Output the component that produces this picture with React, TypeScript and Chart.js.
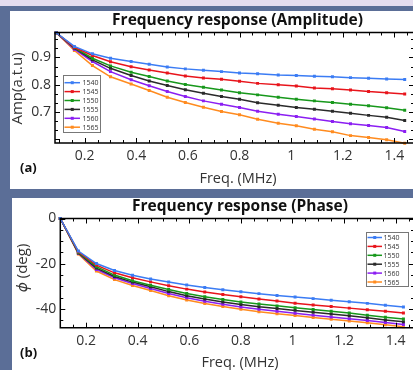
import React, { useEffect, useRef } from 'react';
import { Chart, registerables } from 'chart.js';

Chart.register(...registerables);

const seriesLabels = ['1540', '1545', '1550', '1555', '1560', '1565'];
const seriesColors = ['#3b7cf4', '#e8141b', '#17981b', '#2a2a2a', '#8b1ef2', '#ff8b1f'];

const freqAmp = [0.09, 0.16, 0.23, 0.30, 0.38, 0.45, 0.52, 0.59, 0.66, 0.73, 0.80, 0.87, 0.95, 1.02, 1.09, 1.16, 1.23, 1.30, 1.37, 1.44];
const freqPhase = [0.10, 0.17, 0.24, 0.31, 0.38, 0.45, 0.52, 0.59, 0.66, 0.73, 0.80, 0.87, 0.94, 1.01, 1.08, 1.15, 1.22, 1.29, 1.36, 1.43];

const amp1540 = [0.99, 0.94, 0.913, 0.897, 0.885, 0.875, 0.865, 0.858, 0.853, 0.848, 0.843, 0.84, 0.836, 0.834, 0.831, 0.829, 0.826, 0.824, 0.821, 0.819];
const amp1545 = [0.99, 0.937, 0.907, 0.884, 0.866, 0.854, 0.843, 0.832, 0.825, 0.82, 0.813, 0.805, 0.8, 0.795, 0.788, 0.785, 0.781, 0.775, 0.771, 0.766];
const amp1550 = [0.99, 0.936, 0.897, 0.869, 0.846, 0.83, 0.814, 0.801, 0.791, 0.781, 0.771, 0.763, 0.754, 0.747, 0.741, 0.735, 0.729, 0.723, 0.716, 0.707];
const amp1555 = [0.99, 0.934, 0.891, 0.86, 0.834, 0.814, 0.797, 0.782, 0.769, 0.757, 0.747, 0.734, 0.725, 0.717, 0.71, 0.703, 0.696, 0.688, 0.681, 0.669];
const amp1560 = [0.99, 0.93, 0.885, 0.848, 0.818, 0.796, 0.775, 0.757, 0.741, 0.729, 0.717, 0.703, 0.692, 0.684, 0.675, 0.666, 0.657, 0.651, 0.644, 0.629];
const amp1565 = [0.99, 0.925, 0.87, 0.829, 0.803, 0.779, 0.754, 0.735, 0.718, 0.702, 0.69, 0.674, 0.659, 0.65, 0.637, 0.628, 0.614, 0.607, 0.599, 0.586];

const phase1540 = [0, -14.4, -19.9, -23.0, -25.1, -26.7, -28.1, -29.4, -30.5, -31.5, -32.4, -33.2, -34.0, -34.7, -35.4, -36.1, -36.8, -37.5, -38.3, -39.1];
const phase1545 = [0, -14.7, -20.6, -24.0, -26.2, -28.0, -29.7, -31.2, -32.5, -33.6, -34.6, -35.6, -36.5, -37.4, -38.2, -38.9, -39.6, -40.3, -41.0, -41.8];
const phase1550 = [0, -15.0, -21.3, -25.0, -27.5, -29.5, -31.4, -33.1, -34.6, -35.8, -36.9, -37.8, -38.6, -39.4, -40.2, -41.0, -41.8, -42.7, -43.6, -44.4];
const phase1555 = [0, -15.2, -21.9, -25.6, -28.1, -30.2, -32.3, -34.1, -35.6, -36.9, -38.0, -39.0, -39.8, -40.6, -41.4, -42.2, -43.0, -43.9, -44.8, -45.6];
const phase1560 = [0, -15.4, -22.5, -26.2, -28.7, -30.9, -33.1, -35.0, -36.6, -37.9, -39.1, -40.1, -41.0, -41.9, -42.7, -43.5, -44.3, -45.1, -46.0, -46.8];
const phase1565 = [0, -15.7, -23.2, -27.0, -29.6, -31.8, -34.1, -36.0, -37.6, -38.9, -40.1, -41.2, -42.1, -42.9, -43.7, -44.5, -45.3, -46.1, -46.9, -47.8];

const xTickValues = [0.2, 0.4, 0.6, 0.8, 1, 1.2, 1.4];
const ampTickValues = [0.7, 0.8, 0.9];
const phaseTickValues = [-40, -20, 0];

const ampSeries = [amp1540, amp1545, amp1550, amp1555, amp1560, amp1565];
const phaseSeries = [phase1540, phase1545, phase1550, phase1555, phase1560, phase1565];

const FONT = '"Open Sans", "Noto Sans", sans-serif';

const decorPlugin = {
  id: 'decor',
  afterDraw(chart: any, _args: any, o: any) {
    const { ctx, chartArea: ca, scales } = chart;
    const xs = scales.x;
    const ys = scales.y;
    ctx.save();
    // frame
    ctx.strokeStyle = '#000';
    ctx.lineWidth = 1.5;
    ctx.beginPath();
    ctx.rect(ca.left, ca.top, ca.right - ca.left, ca.bottom - ca.top);
    ctx.stroke();
    ctx.lineWidth = 1;
    // x ticks
    const k0 = Math.ceil(xs.min / o.xMinor - 1e-6);
    const k1 = Math.floor(xs.max / o.xMinor + 1e-6);
    for (let k = k0; k <= k1; k++) {
      const v = k * o.xMinor;
      const r = v / o.xMajor;
      const major = Math.abs(r - Math.round(r)) < 1e-3;
      const len = major ? 5 : 3;
      const px = Math.round(xs.getPixelForValue(v)) + 0.5;
      ctx.beginPath();
      ctx.moveTo(px, ca.bottom);
      ctx.lineTo(px, ca.bottom - len);
      ctx.moveTo(px, ca.top);
      ctx.lineTo(px, ca.top + len);
      ctx.stroke();
    }
    const j0 = Math.ceil(ys.min / o.yMinor - 1e-6);
    const j1 = Math.floor(ys.max / o.yMinor + 1e-6);
    for (let k = j0; k <= j1; k++) {
      const v = k * o.yMinor;
      const r = v / o.yMajor;
      const major = Math.abs(r - Math.round(r)) < 1e-3;
      const len = major ? 5 : 3;
      const py = Math.round(ys.getPixelForValue(v)) + 0.5;
      ctx.beginPath();
      ctx.moveTo(ca.left, py);
      ctx.lineTo(ca.left + len, py);
      ctx.moveTo(ca.right, py);
      ctx.lineTo(ca.right - len, py);
      ctx.stroke();
    }
    // legend
    const L = o.legend;
    ctx.fillStyle = '#fff';
    ctx.fillRect(L.x, L.y, L.w, L.h);
    ctx.strokeStyle = '#777';
    ctx.lineWidth = 1;
    ctx.strokeRect(L.x + 0.5, L.y + 0.5, L.w - 1, L.h - 1);
    chart.data.datasets.forEach((ds: any, i: number) => {
      const yy = L.y + L.first + i * L.row;
      ctx.strokeStyle = ds.borderColor;
      ctx.lineWidth = 1.5;
      ctx.beginPath();
      ctx.moveTo(L.x + L.lineStart, yy);
      ctx.lineTo(L.x + L.lineEnd, yy);
      ctx.stroke();
      ctx.fillStyle = ds.borderColor;
      const mx = L.x + (L.lineStart + L.lineEnd) / 2;
      ctx.fillRect(mx - 1.5, yy - 1.5, 3, 3);
      ctx.fillStyle = '#333';
      ctx.font = `7px ${FONT}`;
      ctx.textAlign = 'left';
      ctx.textBaseline = 'middle';
      ctx.fillText(ds.label, L.x + L.textX, yy + 0.5);
    });
    // title
    ctx.fillStyle = '#111';
    ctx.font = `bold 15.5px ${FONT}`;
    ctx.textAlign = 'center';
    ctx.textBaseline = 'alphabetic';
    ctx.fillText(o.title, o.titleX, o.titleY);
    // x title
    ctx.fillStyle = '#333';
    ctx.font = `14.5px ${FONT}`;
    ctx.fillText(o.xTitle, o.xTitleX, o.xTitleY);
    // y title (rotated, possibly mixed styles)
    ctx.save();
    ctx.translate(o.yTitleX, o.yTitleY);
    ctx.rotate(-Math.PI / 2);
    ctx.textAlign = 'left';
    const parts = o.yTitle as { text: string; italic?: boolean }[];
    const fontFor = (p: any) => `${p.italic ? 'italic ' : ''}15px ${FONT}`;
    let total = 0;
    parts.forEach((p) => {
      ctx.font = fontFor(p);
      total += ctx.measureText(p.text).width;
    });
    let cx = -total / 2;
    parts.forEach((p) => {
      ctx.font = fontFor(p);
      ctx.fillText(p.text, cx, 0);
      cx += ctx.measureText(p.text).width;
    });
    ctx.restore();
    // panel tag
    ctx.fillStyle = '#111';
    ctx.font = `bold 13px ${FONT}`;
    ctx.textAlign = 'left';
    ctx.fillText(o.tag, o.tagX, o.tagY);
    ctx.restore();
  },
};

function makeConfig(p: any) {
  return {
    type: 'line',
    data: {
      datasets: p.series.map((vals: number[], i: number) => ({
        label: seriesLabels[i],
        data: vals.map((v, k) => ({ x: p.freq[k], y: v })),
        borderColor: seriesColors[i],
        backgroundColor: seriesColors[i],
        borderWidth: 1.5,
        pointStyle: 'rect',
        pointRadius: 2.1,
        pointBorderWidth: 0,
        tension: 0,
        clip: 5,
      })),
    },
    options: {
      responsive: false,
      animation: false,
      devicePixelRatio: 1,
      layout: { padding: { left: 0, top: p.top, right: p.right, bottom: 0 } },
      plugins: {
        legend: { display: false },
        title: { display: false },
        tooltip: { enabled: false },
        decor: p.decor,
      },
      scales: {
        x: {
          type: 'linear',
          min: p.xMin,
          max: p.xMax,
          afterBuildTicks: (s: any) => {
            s.ticks = xTickValues.map((v) => ({ value: v }));
          },
          afterFit: (s: any) => {
            s.height = p.xHeight;
          },
          grid: { display: false, drawTicks: false },
          border: { display: false },
          ticks: {
            autoSkip: false,
            maxRotation: 0,
            padding: p.xPad,
            color: '#333',
            font: { family: FONT, size: 14 },
            callback: (v: number) => String(v),
          },
        },
        y: {
          type: 'linear',
          min: p.yMin,
          max: p.yMax,
          afterBuildTicks: (s: any) => {
            s.ticks = p.yTicks.map((v: number) => ({ value: v }));
          },
          afterFit: (s: any) => {
            s.width = p.yWidth;
          },
          grid: { display: false, drawTicks: false },
          border: { display: false },
          ticks: {
            padding: 4,
            color: '#333',
            font: { family: FONT, size: 14 },
            callback: (v: number) => String(v),
          },
        },
      },
    },
    plugins: [decorPlugin],
  };
}

function Panel(props: { cfg: any; width: number; height: number }) {
  const ref = useRef<HTMLCanvasElement>(null);
  useEffect(() => {
    const chart = new Chart(ref.current as HTMLCanvasElement, makeConfig(props.cfg) as any);
    return () => chart.destroy();
  }, []);
  return (
    <canvas
      ref={ref}
      width={props.width}
      height={props.height}
      style={{ position: 'absolute', left: 0, top: 0, width: props.width, height: props.height }}
    />
  );
}

const ampCfg = {
  freq: freqAmp,
  series: ampSeries,
  xMin: 0.085,
  xMax: 1.476,
  yMin: 0.587,
  yMax: 0.991,
  yTicks: ampTickValues,
  top: 21.5,
  right: 16,
  xHeight: 46,
  yWidth: 45,
  xPad: 5,
  decor: {
    xMinor: 0.05,
    xMajor: 0.2,
    yMinor: 0.1 / 3,
    yMajor: 0.1,
    legend: { x: 53, y: 64, w: 38, h: 58, first: 7.7, row: 8.9, lineStart: 1.5, lineEnd: 17, textX: 19.5 },
    title: 'Frequency response (Amplitude)',
    titleX: 227.5,
    titleY: 14,
    xTitle: 'Freq. (MHz)',
    xTitleX: 228,
    xTitleY: 172,
    yTitle: [{ text: 'Amp(a.t.u)' }],
    yTitleX: 11.5,
    yTitleY: 77.5,
    tag: '(a)',
    tagX: 10,
    tagY: 161,
  },
};

const phaseCfg = {
  freq: freqPhase,
  series: phaseSeries,
  xMin: 0.1,
  xMax: 1.471,
  yMin: -48.25,
  yMax: 0,
  yTicks: phaseTickValues,
  top: 20.5,
  right: 16,
  xHeight: 52.3,
  yWidth: 48.3,
  xPad: 5,
  decor: {
    xMinor: 0.05,
    xMajor: 0.2,
    yMinor: 5,
    yMajor: 20,
    legend: { x: 354, y: 34, w: 43, h: 55, first: 5.5, row: 8.9, lineStart: 1.5, lineEnd: 16, textX: 17.5 },
    title: 'Frequency response (Phase)',
    titleX: 228,
    titleY: 13,
    xTitle: 'Freq. (MHz)',
    xTitleX: 228,
    xTitleY: 169,
    yTitle: [{ text: '\u03d5', italic: true }, { text: ' (deg)' }],
    yTitleX: 15,
    yTitleY: 70,
    tag: '(b)',
    tagX: 8,
    tagY: 159,
  },
};

export default function App() {
  return (
    <div
      style={{
        position: 'fixed',
        left: 0,
        top: 0,
        width: 413,
        height: 370,
        overflow: 'hidden',
        background: '#5b6e97',
      }}
    >
      <div style={{ position: 'absolute', left: 0, top: 0, width: 413, height: 6, background: '#e5ddef' }} />
      <div style={{ position: 'absolute', left: 10, top: 11, width: 403, height: 178, background: '#fff', overflow: 'hidden' }}>
        <Panel cfg={ampCfg} width={420} height={178} />
      </div>
      <div style={{ position: 'absolute', left: 12, top: 198, width: 401, height: 172, background: '#fff', overflow: 'hidden' }}>
        <Panel cfg={phaseCfg} width={418} height={182} />
      </div>
    </div>
  );
}
